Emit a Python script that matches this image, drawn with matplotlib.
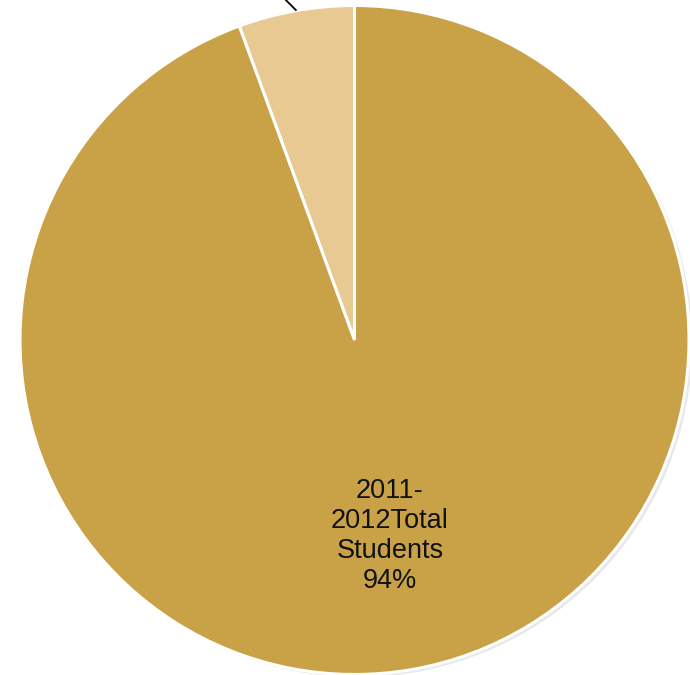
import matplotlib.pyplot as plt
import numpy as np

labels = ['other', '2011-\n2012Total\nStudents\n94%']
values = [5.6, 94.4]
colors = ['#E8C992', '#C9A248']

W, H = 690, 675
cx, cy, r = 354.5, 340.0, 334.5

fig = plt.figure(figsize=(W / 100, H / 100), dpi=100)
ax = fig.add_axes([0, 0, 1, 1])
ax.set_aspect('equal')
ax.axis('off')

# faint shadow on the right
shadow = plt.Circle((0.01, -0.008), 1.0, color='#000000', alpha=0.09, lw=0)
ax.add_patch(shadow)

wedges, _ = ax.pie(values, colors=colors, startangle=90, counterclock=True,
                   radius=1.0, center=(0, 0),
                   wedgeprops=dict(edgecolor='white', linewidth=2.2))
ax.set_xlim(-cx / r, (W - cx) / r)
ax.set_ylim(-(H - cy) / r, cy / r)

ax.text(0.106, -0.585, labels[1], ha='center', va='center',
        fontsize=19.5, family='Liberation Sans', linespacing=1.2, color='#111111')

# leader line of the small slice (its label sits outside the picture)
w = wedges[0]
ang = np.deg2rad((w.theta1 + w.theta2) / 2)
p0 = np.array([np.cos(ang), np.sin(ang)]) * 1.002
p1 = p0 + np.array([-0.06, 0.06])
ax.plot([p0[0], p1[0]], [p0[1], p1[1]], color='black', lw=1.3, clip_on=False)

fig.savefig('out.png', dpi=100)
